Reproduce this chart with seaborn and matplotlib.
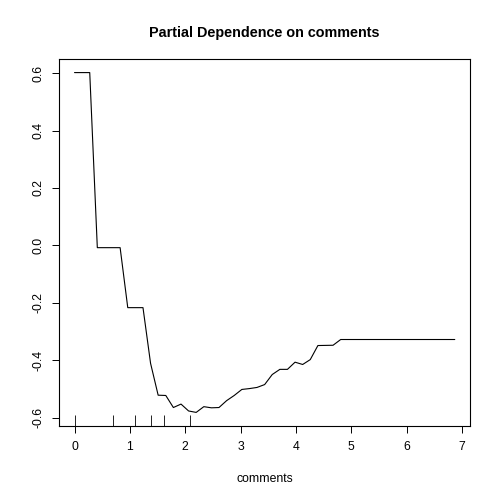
import numpy as np
import pandas as pd
import matplotlib
matplotlib.use("Agg")
import matplotlib.pyplot as plt
import seaborn as sns

# partial dependence curve
comments = [0.000, 0.275, 0.412, 0.824, 0.962, 1.237, 1.374, 1.511, 1.649, 1.786,
            1.924, 2.061, 2.198, 2.336, 2.473, 2.610, 2.748, 2.885, 3.023, 3.160,
            3.297, 3.435, 3.572, 3.710, 3.847, 3.984, 4.122, 4.259, 4.397, 4.671,
            4.809, 6.870]
partial = [0.602, 0.602, -0.008, -0.008, -0.217, -0.217, -0.411, -0.522, -0.523, -0.565,
           -0.553, -0.577, -0.582, -0.562, -0.566, -0.565, -0.541, -0.523, -0.502, -0.499,
           -0.495, -0.485, -0.450, -0.432, -0.432, -0.407, -0.415, -0.398, -0.349, -0.348,
           -0.328, -0.328]
# deciles of the predictor shown as a rug
rug_deciles = [0.0, 0.693, 1.099, 1.386, 1.609, 2.079]

x_ticks = [0, 1, 2, 3, 4, 5, 6, 7]
y_ticks = [-0.6, -0.4, -0.2, 0.0, 0.2, 0.4, 0.6]

sns.set_theme(style="white")
plt.rcParams['font.family'] = ['Liberation Sans', 'DejaVu Sans']
plt.rcParams['text.color'] = 'black'
plt.rcParams['axes.labelcolor'] = 'black'
plt.rcParams['xtick.color'] = 'black'
plt.rcParams['ytick.color'] = 'black'

df = pd.DataFrame({'comments': comments, 'partial': partial})

fig = plt.figure(figsize=(5, 5), dpi=100)
ax = fig.add_axes([0.1186, 0.148, 0.8214, 0.734])

sns.lineplot(data=df, x='comments', y='partial', color='black', linewidth=0.8, ax=ax)
sns.rugplot(x=rug_deciles, height=0.03, color='black', linewidth=0.6, ax=ax)

ax.margins(x=0.04, y=0.04)
ax.set_xticks(x_ticks)
ax.set_yticks(y_ticks)
ax.set_xticklabels([str(t) for t in x_ticks])
ax.set_yticklabels([f'{t:.1f}' for t in y_ticks], rotation=90, va='center')
ax.tick_params(axis='both', direction='out', length=5, width=0.7, colors='black',
               labelsize=8.8, pad=6, bottom=True, left=True)

for side in ['top', 'bottom', 'left', 'right']:
    ax.spines[side].set_visible(True)
    ax.spines[side].set_color('black')
    ax.spines[side].set_linewidth(0.8)

ax.set_ylabel('')
ax.set_xlabel('comments', fontsize=8.8, labelpad=14, color='black')
ax.set_title('Partial Dependence on comments', fontsize=10.4, fontweight='bold',
             pad=16, color='black')

fig.savefig('out.png', dpi=100, facecolor='white')
